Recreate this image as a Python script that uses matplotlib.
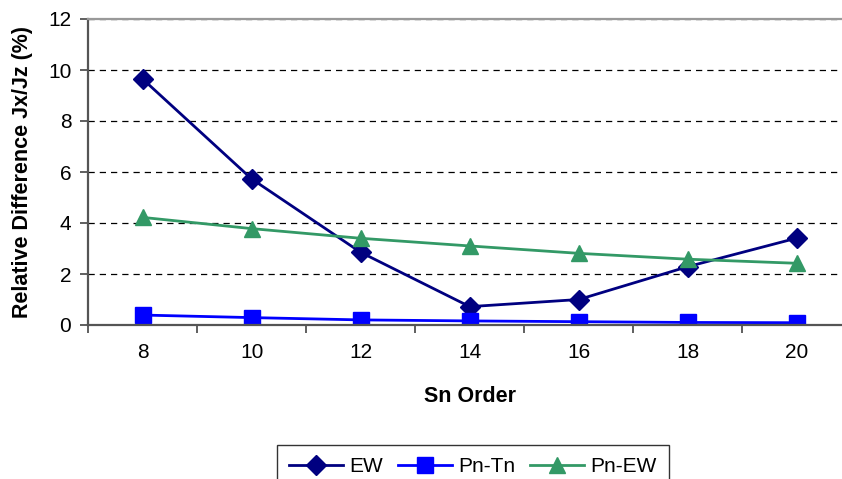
import matplotlib
matplotlib.use('Agg')
import matplotlib.pyplot as plt
from matplotlib.ticker import FixedLocator

# values
sn_order = ['8', '10', '12', '14', '16', '18', '20']
ew = [9.65, 5.73, 2.85, 0.72, 1.0, 2.29, 3.41]
pn_tn = [0.39, 0.29, 0.20, 0.16, 0.13, 0.10, 0.09]
pn_ew = [4.22, 3.78, 3.40, 3.10, 2.81, 2.58, 2.42]

plt.rcParams['font.family'] = ['Liberation Sans', 'DejaVu Sans']

fig = plt.figure(figsize=(8.42, 4.79), dpi=100)
ax = fig.add_axes([88 / 842, 154 / 479, 763.5 / 842, 306 / 479])

x = list(range(len(sn_order)))
ax.plot(x, ew, color='#000080', lw=2, marker='D', ms=10, label='EW')
ax.plot(x, pn_tn, color='#0000FF', lw=2, marker='s', ms=12, label='Pn-Tn')
ax.plot(x, pn_ew, color='#339966', lw=2, marker='^', ms=12, label='Pn-EW')

ax.set_xlim(-0.5, len(sn_order) - 0.5)
ax.set_ylim(0, 12)
ax.set_xticks(x)
ax.set_xticklabels(sn_order, fontsize=15)
ax.xaxis.set_minor_locator(FixedLocator([i - 0.5 for i in range(len(sn_order) + 1)]))
ax.tick_params(axis='x', which='major', length=0, pad=13)
ax.tick_params(axis='x', which='minor', length=6, direction='out', color='#444444', width=1.2)
ax.set_yticks(range(0, 13, 2))
ax.tick_params(axis='y', labelsize=15, length=6, direction='out', color='#444444', width=1.2, pad=6)

ax.grid(axis='y', color='black', ls=(0, (5, 4)), lw=0.9)
ax.set_axisbelow(True)

for s in ['left', 'bottom']:
    ax.spines[s].set_color('#555555')
    ax.spines[s].set_linewidth(1.6)
ax.spines['top'].set_color('#999999')
ax.spines['top'].set_linewidth(1.6)
ax.spines['right'].set_visible(False)

ax.set_xlabel('Sn Order', fontsize=15.5, fontweight='bold', labelpad=17)
ax.set_ylabel('Relative Difference Jx/Jz (%)', fontsize=15.5, fontweight='bold', labelpad=11)

leg = fig.legend(loc='upper center', bbox_to_anchor=(473 / 842, 1 - 445 / 479), ncol=3,
                 fontsize=15, frameon=True, fancybox=False, edgecolor='black',
                 handlelength=2.6, handletextpad=0.3, columnspacing=0.7,
                 borderpad=0.6, borderaxespad=0)
leg.get_frame().set_linewidth(1.0)

fig.savefig('out.png', dpi=100)
